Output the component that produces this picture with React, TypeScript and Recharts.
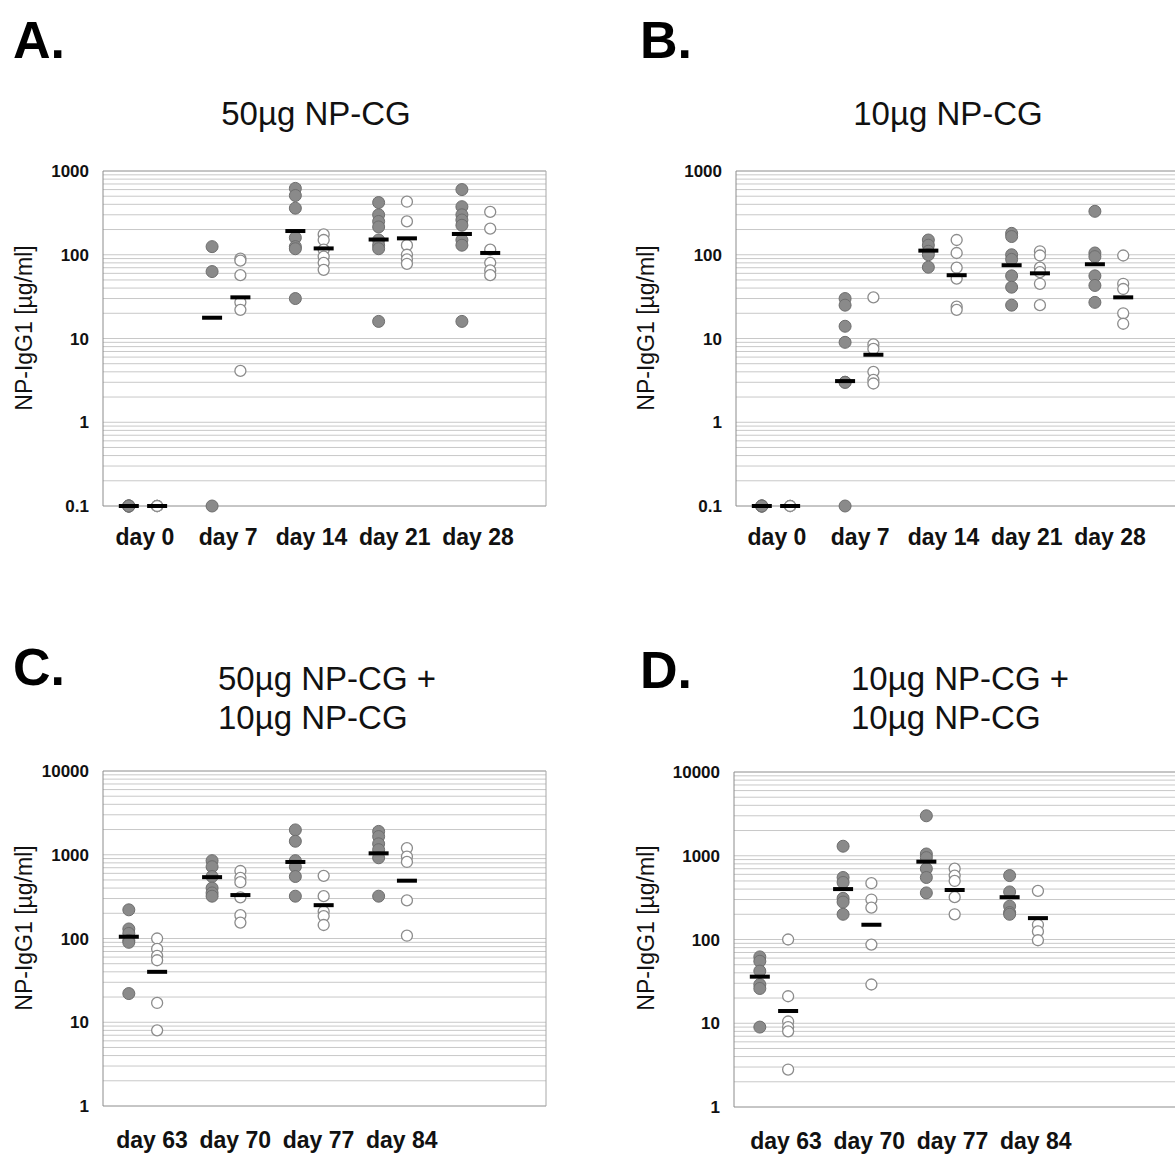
import React from 'react';
import {
  ScatterChart, Scatter, XAxis, YAxis, CartesianGrid, ReferenceLine,
} from 'recharts';

const FONT = '"Liberation Sans", Arial, Helvetica, sans-serif';

// categories
const earlyDays = ['day 0', 'day 7', 'day 14', 'day 21', 'day 28'];
const lateDays = ['day 63', 'day 70', 'day 77', 'day 84'];

// decade tick labels
const decadesEarly = [0.1, 1, 10, 100, 1000];
const decadesLate = [1, 10, 100, 1000, 10000];

// A. 50ug NP-CG
const aGray = [
  [0.1, 0.1, 0.1, 0.1, 0.1],
  [125, 63, 0.1],
  [620, 510, 360, 160, 125, 118, 30],
  [420, 300, 250, 215, 150, 130, 118, 16],
  [600, 375, 300, 260, 225, 150, 130, 16],
];
const aGrayMean = [0.1, 17.7, 192, 152, 177];
const aWhite = [
  [0.1, 0.1, 0.1, 0.1],
  [90, 85, 57, 27, 22, 4.1],
  [175, 150, 115, 95, 80, 66],
  [430, 250, 130, 100, 88, 78],
  [325, 205, 115, 80, 65, 57],
];
const aWhiteMean = [0.1, 31, 119, 157, 105];

// B. 10ug NP-CG
const bGray = [
  [0.1, 0.1, 0.1, 0.1],
  [30, 25, 14, 9, 3, 3, 0.1],
  [150, 130, 110, 100, 71],
  [180, 165, 100, 88, 56, 41, 25],
  [330, 105, 95, 56, 43, 27],
];
const bGrayMean = [0.1, 3.1, 112, 75, 77];
const bWhite = [
  [0.1, 0.1, 0.1],
  [31, 8.5, 7.5, 4, 3.2, 2.9],
  [150, 105, 70, 52, 24, 22],
  [110, 98, 70, 62, 45, 25],
  [98, 45, 39, 20, 15],
];
const bWhiteMean = [0.1, 6.4, 57, 60, 31];

// C. 50ug + 10ug NP-CG
const cGray = [
  [220, 130, 115, 95, 90, 22],
  [850, 720, 550, 400, 350, 320],
  [1980, 1450, 850, 720, 550, 320],
  [1900, 1650, 1350, 1150, 920, 320],
];
const cGrayMean = [105, 540, 820, 1040];
const cWhite = [
  [100, 75, 62, 55, 17, 8],
  [640, 530, 470, 310, 190, 155],
  [560, 320, 210, 185, 145],
  [1200, 950, 820, 285, 108],
];
const cWhiteMean = [40, 330, 250, 490];

// D. 10ug + 10ug NP-CG
const dGray = [
  [62, 55, 42, 29, 26, 9],
  [1300, 550, 480, 310, 280, 200],
  [3000, 1050, 950, 700, 550, 360],
  [580, 370, 250, 210, 200],
];
const dGrayMean = [36, 400, 850, 320];
const dWhite = [
  [100, 21, 10.5, 9, 8, 2.8],
  [470, 300, 240, 87, 29],
  [700, 580, 500, 320, 200],
  [380, 150, 125, 98],
];
const dWhiteMean = [14, 150, 390, 180];

// gridlines at 1..9 of every decade
const logTicks = (decades: number[]) => {
  const out: number[] = [];
  decades.slice(0, -1).forEach((d) => {
    for (let m = 1; m < 10; m++) out.push(+(d * m).toPrecision(3));
  });
  out.push(decades[decades.length - 1]);
  return out;
};

const toPoints = (groups: number[][], offset: number) =>
  groups.flatMap((vals, i) => vals.map((v) => ({ x: i + offset, y: v })));
const toMeans = (means: number[], offset: number) =>
  means.map((v, i) => ({ x: i + offset, y: v }));

const GrayDot = (p: any) => (
  <circle cx={p.cx} cy={p.cy} r={6} fill="#8a8a8a" stroke="#6e6e6e" strokeWidth={1} />
);
const OpenDot = (p: any) => (
  <circle cx={p.cx} cy={p.cy} r={5.5} fill="#fff" stroke="#8c8c8c" strokeWidth={1.3} />
);
const MeanBar = (p: any) => (
  <rect x={p.cx - 10} y={p.cy - 2} width={20} height={4} fill="#000" />
);

const X_DOMAIN = [-0.48, 4.84];
const SHIFT = 0.17;
const PLOT_W = 443;
const PLOT_H = 335;
const AXIS_W = 103;
const MT = 20;
const MR = 15;
const XAXIS_H = 60;

interface PanelProps {
  left: number; top: number; cats: string[];
  gray: number[][]; white: number[][];
  grayMean: number[]; whiteMean: number[];
  decades: number[]; tickGap: number; labelShift: number;
}

const Panel: React.FC<PanelProps> = ({
  left, top, cats, gray, white, grayMean, whiteMean, decades, tickGap, labelShift,
}) => {
  const ticks = logTicks(decades);
  const yMax = decades[decades.length - 1];
  return (
    <div style={{ position: 'absolute', left: left - AXIS_W, top: top - MT }}>
      <ScatterChart
        width={AXIS_W + PLOT_W + MR}
        height={MT + PLOT_H + XAXIS_H}
        margin={{ top: MT, right: MR, bottom: 0, left: 0 }}
      >
        <CartesianGrid vertical={false} stroke="#c8c8c8" />
        <XAxis
          type="number"
          dataKey="x"
          domain={X_DOMAIN}
          ticks={cats.map((_, i) => i)}
          interval={0}
          tickFormatter={(i: number) => cats[i]}
          axisLine={{ stroke: '#a8a8a8' }}
          tickLine={false}
          height={XAXIS_H}
          tickMargin={tickGap}
          tick={{ fill: '#111', fontSize: 23, fontWeight: 700, fontFamily: FONT, dx: labelShift }}
        />
        <YAxis
          type="number"
          dataKey="y"
          scale="log"
          domain={[decades[0], yMax]}
          ticks={ticks}
          interval={0}
          tickFormatter={(v: number) => (decades.includes(v) ? String(v) : '')}
          width={AXIS_W}
          axisLine={{ stroke: '#8c8c8c' }}
          tickLine={false}
          tickMargin={8}
          tick={{ fill: '#111', fontSize: 17, fontWeight: 700, fontFamily: FONT }}
        />
        <ReferenceLine x={X_DOMAIN[1]} stroke="#a8a8a8" />
        <ReferenceLine y={yMax} stroke="#a8a8a8" />
        <Scatter data={toPoints(gray, -SHIFT)} shape={GrayDot} isAnimationActive={false} />
        <Scatter data={toPoints(white, SHIFT)} shape={OpenDot} isAnimationActive={false} />
        <Scatter data={toMeans(grayMean, -SHIFT)} shape={MeanBar} isAnimationActive={false} />
        <Scatter data={toMeans(whiteMean, SHIFT)} shape={MeanBar} isAnimationActive={false} />
      </ScatterChart>
    </div>
  );
};

const YLabel = ({ x, y }: { x: number; y: number }) => (
  <text
    x={x} y={y}
    transform={`rotate(-90 ${x} ${y})`}
    textAnchor="middle"
    dominantBaseline="central"
    fontSize={23}
    fill="#111"
  >
    NP-IgG1 [µg/ml]
  </text>
);

export default function App() {
  return (
    <div
      style={{
        position: 'fixed', left: 0, top: 0, width: 1175, height: 1154,
        overflow: 'hidden', background: '#fff', fontFamily: FONT,
      }}
    >
      <Panel left={103} top={171} cats={earlyDays} gray={aGray} white={aWhite}
        grayMean={aGrayMean} whiteMean={aWhiteMean} decades={decadesEarly}
        tickGap={17} labelShift={2} />
      <Panel left={736} top={171} cats={earlyDays} gray={bGray} white={bWhite}
        grayMean={bGrayMean} whiteMean={bWhiteMean} decades={decadesEarly}
        tickGap={17} labelShift={1} />
      <Panel left={103} top={771} cats={lateDays} gray={cGray} white={cWhite}
        grayMean={cGrayMean} whiteMean={cWhiteMean} decades={decadesLate}
        tickGap={20} labelShift={9} />
      <Panel left={734} top={772} cats={lateDays} gray={dGray} white={dWhite}
        grayMean={dGrayMean} whiteMean={dWhiteMean} decades={decadesLate}
        tickGap={20} labelShift={12} />

      <svg
        width={1175} height={1154}
        style={{ position: 'absolute', left: 0, top: 0, pointerEvents: 'none' }}
        fontFamily={FONT}
      >
        <g fontSize={52} fontWeight={700} fill="#000">
          <text x={13} y={58}>A.</text>
          <text x={640} y={58}>B.</text>
          <text x={13} y={685}>C.</text>
          <text x={640} y={688}>D.</text>
        </g>
        <g fontSize={33} fill="#111">
          <text x={316} y={125} textAnchor="middle">50µg NP-CG</text>
          <text x={948} y={125} textAnchor="middle">10µg NP-CG</text>
          <text x={218} y={690}>50µg NP-CG +</text>
          <text x={218} y={729}>10µg NP-CG</text>
          <text x={851} y={690}>10µg NP-CG +</text>
          <text x={851} y={729}>10µg NP-CG</text>
        </g>
        <YLabel x={24} y={328} />
        <YLabel x={646} y={328} />
        <YLabel x={24} y={928} />
        <YLabel x={646} y={928} />
      </svg>
    </div>
  );
}
